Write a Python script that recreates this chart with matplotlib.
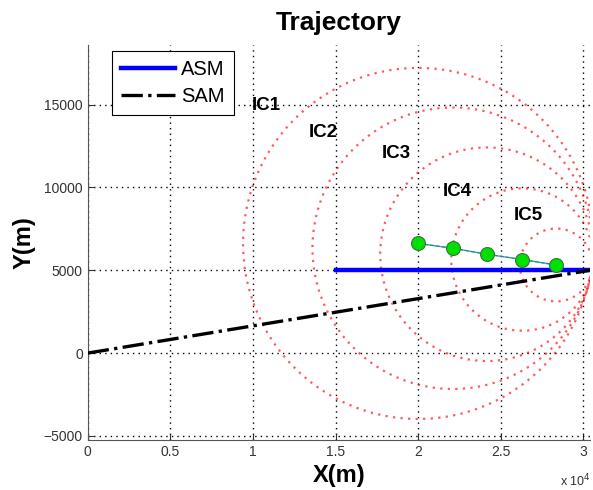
import numpy as np
import matplotlib
matplotlib.use("Agg")
import matplotlib.pyplot as plt
from matplotlib.ticker import FuncFormatter

plt.rcParams['font.family'] = ['Liberation Sans', 'DejaVu Sans']

# Data
asm_x = [15000, 30400]
asm_y = [5000, 5000]
sam_x = [0, 30400]
sam_y = [0, 5000]
pts_x = [20000, 22100, 24150, 26300, 28350]
pts_y = [6620, 6330, 5970, 5650, 5320]
radii = [10600, 8500, 6450, 4300, 2200]
ic_labels = ["IC1", "IC2", "IC3", "IC4", "IC5"]
ic_x = [9900, 13400, 17800, 21500, 25800]
ic_y = [14700, 13050, 11800, 9500, 8050]

fig = plt.figure(figsize=(5.93, 4.90), dpi=100)
ax = fig.add_axes([0.148, 0.102, 0.847, 0.806])

# circles around each point
t = np.linspace(0, 2 * np.pi, 400)
for cx, cy, r in zip(pts_x, pts_y, radii):
    ax.plot(cx + r * np.cos(t), cy + r * np.sin(t), color='red',
            linestyle=(0, (1, 2.4)), lw=1.6, alpha=0.65, zorder=2)

ax.plot(asm_x, asm_y, '-', color='blue', lw=3.2, label='ASM', zorder=3)
ax.plot(sam_x, sam_y, '-.', color='black', lw=2.4, label='SAM', zorder=3)

ax.plot(pts_x, pts_y, '-', color='#33cc33', lw=1, zorder=4)
ax.plot(pts_x, pts_y, '--', color='#3366ff', lw=0.8, zorder=4)
ax.plot(pts_x, pts_y, 'o', color='#00e000', mec='#337733', mew=0.8,
        ms=10, zorder=5)

for lab, lx, ly in zip(ic_labels, ic_x, ic_y):
    ax.text(lx, ly, lab, fontsize=13.5, fontweight='bold', zorder=6)

ax.set_xlim(0, 30400)
ax.set_ylim(-5250, 18600)
ax.set_xticks([0, 5000, 10000, 15000, 20000, 25000, 30000])
ax.set_yticks([-5000, 0, 5000, 10000, 15000])
ax.xaxis.set_major_formatter(FuncFormatter(lambda v, p: '%g' % (v / 1e4)))
ax.yaxis.set_major_formatter(FuncFormatter(lambda v, p: '%d' % v if v >= 0 else '\u2212%d' % -v))
ax.tick_params(direction='in', labelsize=10, length=4, colors='#333333')
ax.grid(True, linestyle=(0, (1, 3)), color='black', lw=1)
ax.set_axisbelow(True)
for s in ['top', 'right']:
    ax.spines[s].set_visible(False)
for s in ['left', 'bottom']:
    ax.spines[s].set_color('#555555')

ax.set_title("Trajectory", fontsize=19, fontweight='bold', pad=11)
ax.set_xlabel("X(m)", fontsize=17, fontweight='bold', labelpad=4)
ax.set_ylabel("Y(m)", fontsize=17, fontweight='bold', labelpad=6)
fig.text(0.945, 0.008, r"x 10$^4$", fontsize=9, color='#333333')

leg = ax.legend(loc='upper left', bbox_to_anchor=(0.048, 0.985), fontsize=14.5,
                fancybox=False, framealpha=1, edgecolor='black',
                handlelength=2.7, borderpad=0.45, labelspacing=0.4,
                handletextpad=0.3, borderaxespad=0)
leg.get_frame().set_linewidth(0.8)

fig.savefig('out.png', dpi=100)
